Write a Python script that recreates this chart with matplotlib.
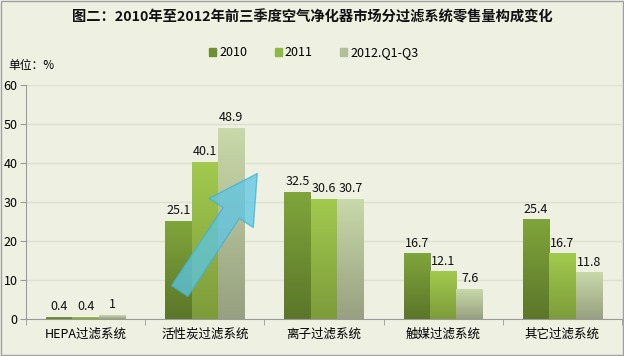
import numpy as np
import matplotlib
matplotlib.use("Agg")
import matplotlib.pyplot as plt
from matplotlib.colors import LinearSegmentedColormap
from matplotlib.patches import FancyArrowPatch, Rectangle

plt.rcParams["font.family"] = ["Noto Sans CJK SC", "DejaVu Sans"]

TITLE = "图二：2010年至2012年前三季度空气净化器市场分过滤系统零售量构成变化"
UNIT = "单位：%"
categories = ["HEPA过滤系统", "活性炭过滤系统", "离子过滤系统", "触媒过滤系统", "其它过滤系统"]
series_names = ["2010", "2011", "2012.Q1-Q3"]
values_2010 = [0.4, 25.1, 32.5, 16.7, 25.4]
values_2011 = [0.4, 40.1, 30.6, 12.1, 16.7]
values_2012 = [1, 48.9, 30.7, 7.6, 11.8]
yticks = [0, 10, 20, 30, 40, 50, 60]

BG = "#eef1e2"
# (top, bottom) gradient colours per series
_GRADIENTS = [
    ("#80a53b", "#5b7629"),
    ("#a2ca4e", "#7d9c3a"),
    ("#c9d9a9", "#97a080"),
]
_LEGEND_COLORS = ["#6f8f33", "#8fb844", "#b3bf98"]


def gradient_bar(ax, rect, top, bottom):
    x, w, h = rect.get_x(), rect.get_width(), rect.get_height()
    cmap = LinearSegmentedColormap.from_list("g", [bottom, top])
    grad = np.linspace(0, 1, 128).reshape(-1, 1)
    ax.imshow(grad, extent=[x, x + w, 0, h], origin="lower", cmap=cmap,
              aspect="auto", zorder=2, interpolation="bilinear")


fig = plt.figure(figsize=(6.24, 3.56), dpi=100, facecolor=BG)
ax = fig.add_axes([26 / 624, 1 - 319 / 356, 596 / 624, 234 / 356])
ax.set_facecolor(BG)

x = np.arange(len(categories))
width = 0.222
all_values = [values_2010, values_2011, values_2012]
for i, vals in enumerate(all_values):
    bars = ax.bar(x + (i - 1) * width, vals, width, color="none",
                  edgecolor="none", zorder=2, label=series_names[i])
    top, bottom = _GRADIENTS[i]
    for rect in bars:
        gradient_bar(ax, rect, top, bottom)
    for rect, v in zip(bars, vals):
        ax.annotate(f"{v:g}", (rect.get_x() + rect.get_width() / 2, rect.get_height()),
                    xytext=(0, 3), textcoords="offset points",
                    ha="center", va="bottom", fontsize=9, color="#111111", zorder=4)

ax.set_xlim(-0.5, len(categories) - 0.5)
ax.set_ylim(0, 60)
ax.set_yticks(yticks)
ax.set_xticks(x)
ax.set_xticklabels(categories, fontsize=9)
ax.set_xticks(np.arange(-0.5, len(categories)), minor=True)
ax.tick_params(axis="x", which="major", length=0, pad=6)
ax.tick_params(axis="x", which="minor", length=4, color="#9a9a9a")
ax.tick_params(axis="y", length=4, color="#9a9a9a", labelsize=9, pad=2)
ax.yaxis.grid(True, color="#dde1cf", linewidth=1, zorder=0)
ax.set_axisbelow(True)
for s in ("top", "right"):
    ax.spines[s].set_visible(False)
for s in ("left", "bottom"):
    ax.spines[s].set_color("#9a9a9a")

# rising trend arrow over the activated carbon group
arrow = FancyArrowPatch((0.79, 7.2), (1.44, 37.3),
                        arrowstyle="simple,head_length=34,head_width=38,tail_width=14",
                        mutation_scale=1, shrinkA=0, shrinkB=0,
                        facecolor="#5cc6e6", edgecolor="#3fb3d6", linewidth=1,
                        alpha=0.75, zorder=3)
ax.add_patch(arrow)

fig.text(312 / 624, 1 - 17 / 356, TITLE, ha="center", va="center",
         fontsize=10.3, fontweight="bold", color="#111111")
fig.text(8 / 624, 1 - 65 / 356, UNIT, ha="left", va="center", fontsize=8.5)

handles = [Rectangle((0, 0), 1, 1, color=c) for c in _LEGEND_COLORS]
fig.legend(handles, series_names, loc="center", ncol=3,
           bbox_to_anchor=(314 / 624, 1 - 53 / 356), frameon=False,
           fontsize=9, handlelength=0.55, handleheight=0.55,
           handletextpad=0.25, columnspacing=2.2)

fig.patches.append(Rectangle((0.001, 0.002), 0.997, 0.996, transform=fig.transFigure,
                             fill=False, edgecolor="#a0a0a0", linewidth=1))

fig.savefig("out.png", dpi=100, facecolor=BG)
